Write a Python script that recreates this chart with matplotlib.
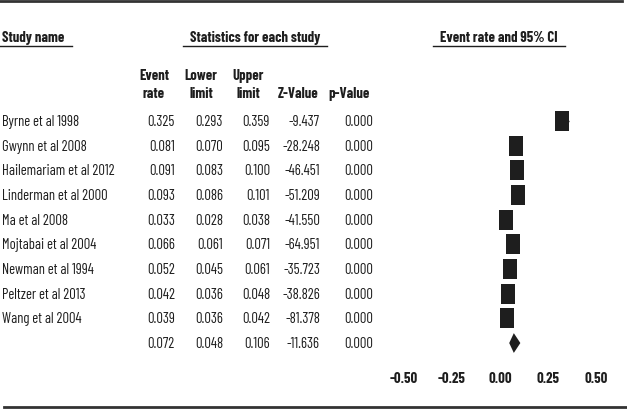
import matplotlib
matplotlib.use("Agg")
import matplotlib.pyplot as plt
from matplotlib import font_manager
from matplotlib.font_manager import FontProperties
from matplotlib.textpath import TextPath
import numpy as np

studies = ["Byrne et al 1998", "Gwynn et al 2008", "Hailemariam et al 2012",
           "Linderman et al 2000", "Ma et al 2008", "Mojtabai et al 2004",
           "Newman et al 1994", "Peltzer et al 2013", "Wang et al 2004"]
event_rate = [0.325, 0.081, 0.091, 0.093, 0.033, 0.066, 0.052, 0.042, 0.039]
lower = [0.293, 0.070, 0.083, 0.086, 0.028, 0.061, 0.045, 0.036, 0.036]
upper = [0.359, 0.095, 0.100, 0.101, 0.038, 0.071, 0.061, 0.048, 0.042]
z_value = [-9.437, -28.248, -46.451, -51.209, -41.550, -64.951, -35.723, -38.826, -81.378]
p_value = [0.000] * 9
summary = {"rate": 0.072, "lower": 0.048, "upper": 0.106, "z": -11.636, "p": 0.000}
xticks = [-0.50, -0.25, 0.00, 0.25, 0.50]


def _w(w):
    if isinstance(w, (int, float)):
        return w
    return {"bold": 700, "heavy": 800, "black": 900, "semibold": 600, "demibold": 600,
            "extra bold": 800, "ultrabold": 800}.get(str(w).lower(), 400)


fonts = {}
for f in font_manager.fontManager.ttflist:
    fonts.setdefault(f.name, set()).add(_w(f.weight))

candidates = ["Liberation Sans Narrow", "Arial Narrow", "Arimo Narrow", "Roboto Condensed",
              "PT Sans Narrow", "Archivo Narrow", "Fira Sans Extra Condensed",
              "Fira Sans Condensed", "Barlow Condensed", "Barlow Semi Condensed",
              "Asap Condensed", "Encode Sans Condensed", "IBM Plex Sans Condensed",
              "Sofia Sans Condensed", "Saira Semi Condensed", "Open Sans Condensed"]
TARGET_W, TARGET_CAP = 111.0, 11.0
best = None
for name in candidates:
    if name not in fonts or max(fonts[name]) < 600 or min(fonts[name]) > 500:
        continue
    try:
        fp = FontProperties(family=name, size=10)
        w = TextPath((0, 0), "Hailemariam et al 2012", prop=fp).get_extents().width * 100 / 72
        cap = TextPath((0, 0), "H", prop=fp).get_extents().height * 100 / 72
        size = 10 * TARGET_W / w
        cap_at = cap * size / 10
        score = abs(cap_at - TARGET_CAP)
        if best is None or score < best[0]:
            best = (score, name, size)
    except Exception:
        continue
if best is None:
    fam, fs = "Liberation Sans", 8.0
else:
    fam, fs = best[1], min(max(best[2], 8.0), 11.5)
plt.rcParams['font.family'] = [fam, 'DejaVu Sans']

W, H = 627, 410
fig = plt.figure(figsize=(W / 100, H / 100), dpi=100)
ax0 = fig.add_axes([0, 0, 1, 1])
ax0.set_xlim(0, W)
ax0.set_ylim(H, 0)
ax0.axis("off")

col = "#1e1e1e"

# frame lines
ax0.plot([0, 622], [2, 2], color="#333333", lw=2)
ax0.plot([4, 627], [408, 408], color="#333333", lw=2)

# headers
ax0.text(2, 38, "Study name", fontsize=fs, fontweight="bold", color=col, va="center", ha="left")
ax0.plot([0, 72], [47, 47], color=col, lw=1)
ax0.text(255, 38, "Statistics for each study", fontsize=fs, fontweight="bold", color=col, va="center", ha="center")
ax0.plot([183, 327], [47, 47], color=col, lw=1)
ax0.text(499, 38, "Event rate and 95% CI", fontsize=fs, fontweight="bold", color=col, va="center", ha="center")
ax0.plot([433, 565], [47, 47], color=col, lw=1)

heads = [(154, "Event", "rate"), (201, "Lower", "limit"), (248, "Upper", "limit")]
for x, a, b in heads:
    ax0.text(x, 76, a, fontsize=fs, fontweight="bold", color=col, va="center", ha="center")
    ax0.text(x, 94, b, fontsize=fs, fontweight="bold", color=col, va="center", ha="center")
ax0.text(298, 94, "Z-Value", fontsize=fs, fontweight="bold", color=col, va="center", ha="center")
ax0.text(349, 94, "p-Value", fontsize=fs, fontweight="bold", color=col, va="center", ha="center")

row_y0, row_dy = 122, 24.67
colx = [175, 223, 270, 320, 373]
for i, s in enumerate(studies):
    y = row_y0 + i * row_dy
    ax0.text(2, y, s, fontsize=fs, color=col, va="center", ha="left")
    vals = [f"{event_rate[i]:.3f}", f"{lower[i]:.3f}", f"{upper[i]:.3f}", f"{z_value[i]:.3f}", f"{p_value[i]:.3f}"]
    for x, v in zip(colx, vals):
        ax0.text(x, y, v, fontsize=fs, color=col, va="center", ha="right")
y = row_y0 + 9 * row_dy
vals = [f"{summary['rate']:.3f}", f"{summary['lower']:.3f}", f"{summary['upper']:.3f}", f"{summary['z']:.3f}", f"{summary['p']:.3f}"]
for x, v in zip(colx, vals):
    ax0.text(x, y, v, fontsize=fs, color=col, va="center", ha="right")

# forest axes
x0 = 500
scale = 192.0  # px per unit
xmin, xmax = -0.6, 0.62
left_px = x0 + xmin * scale
right_px = x0 + xmax * scale
top_px = row_y0 - 0.5 * row_dy
bot_px = row_y0 + 9.5 * row_dy
ax = fig.add_axes([left_px / W, 1 - bot_px / H, (right_px - left_px) / W, (bot_px - top_px) / H])
ax.set_xlim(xmin, xmax)
ax.set_ylim(9.5, -0.5)
for sp in ax.spines.values():
    sp.set_visible(False)
ax.patch.set_alpha(0)
ax.set_yticks([])
ax.set_xticks(xticks)
ax.set_xticklabels([f"{t:.2f}" for t in xticks], fontsize=fs, fontweight="bold", color=col)
ax.tick_params(axis="x", length=0, pad=11)

rows = np.arange(len(studies))
ax.hlines(rows, lower, upper, color=col, lw=1)
rect = [(-0.7, -1), (0.7, -1), (0.7, 1), (-0.7, 1), (-0.7, -1)]
ax.scatter(event_rate, rows, marker=rect, s=190, color=col, linewidths=0)

yd = 9
h = 0.4
ax.fill([summary["lower"], summary["rate"], summary["upper"], summary["rate"]],
        [yd, yd - h, yd, yd + h], color=col, lw=0)

fig.savefig("out.png", dpi=100)
